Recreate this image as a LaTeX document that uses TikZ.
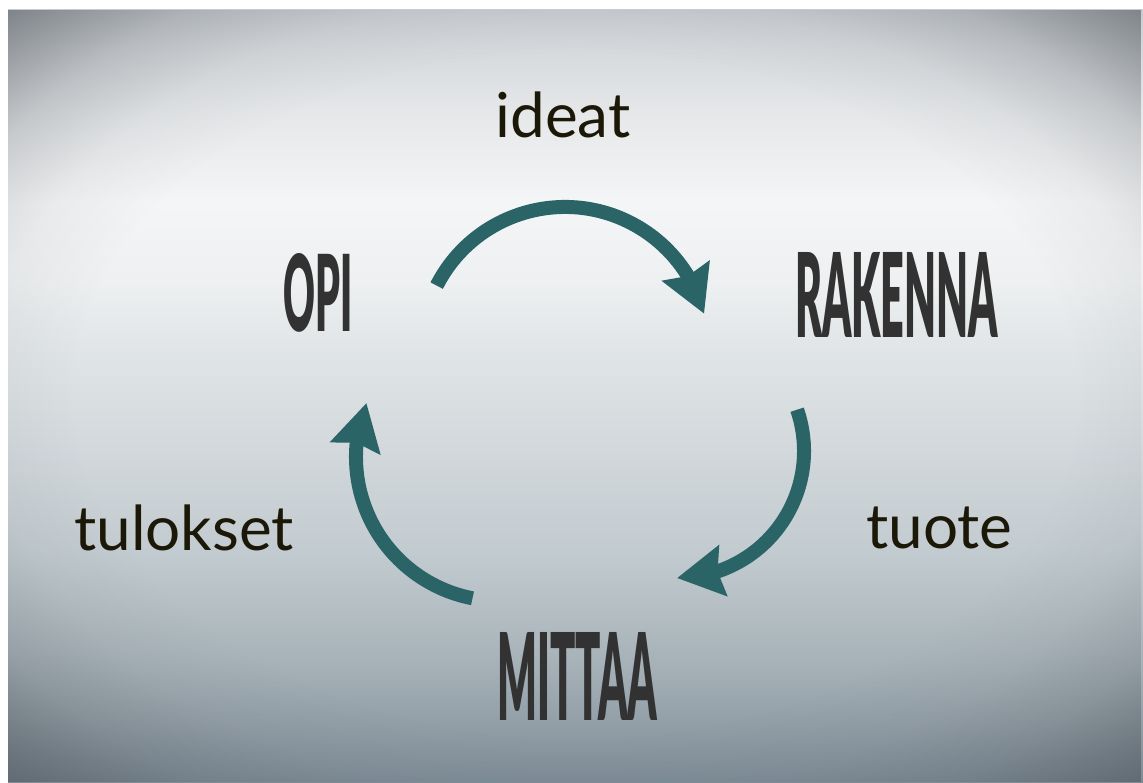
\documentclass[tikz,border=0pt]{standalone}
\usepackage{fontspec}
\usepackage{graphicx}
\usetikzlibrary{arrows.meta,bending,fadings}

\newfontfamily\gothic{Lato Black}
\newfontfamily\labelfont{Lato}

\definecolor{arrowteal}{HTML}{2A6467}
\definecolor{wordgrey}{HTML}{323232}
\definecolor{labelink}{HTML}{1C1808}
\definecolor{vignettegrey}{HTML}{50565C}
% backdrop, bottom to top
\definecolor{bgA}{HTML}{7E8C97}
\definecolor{bgB}{HTML}{94A0A8}
\definecolor{bgC}{HTML}{AAB5BB}
\definecolor{bgD}{HTML}{C2CBD0}
\definecolor{bgE}{HTML}{D2D8DB}
\definecolor{bgF}{HTML}{E1E5E7}
\definecolor{bgG}{HTML}{EEF0F1}
\definecolor{bgH}{HTML}{F4F5F6}
\definecolor{bgI}{HTML}{E6E8EA}
\definecolor{bgJ}{HTML}{D6D9DC}
\definecolor{bgK}{HTML}{C8CCD0}

% TikZ maps a path's box onto the middle band 25bp..75bp of a shading
\pgfdeclareverticalshading{backdrop}{100bp}{%
  color(0bp)=(bgA); color(25bp)=(bgA); color(29bp)=(bgB); color(33.5bp)=(bgC);
  color(40bp)=(bgD); color(46.5bp)=(bgE); color(53bp)=(bgF); color(57.5bp)=(bgG);
  color(62.5bp)=(bgH); color(68bp)=(bgI); color(72.5bp)=(bgJ); color(75bp)=(bgK);
  color(100bp)=(bgK)}

% luminosity mask: black lets the backdrop through, lighter greys darken it
\pgfdeclareradialshading{vignettemask}{\pgfpointorigin}{%
  color(0bp)=(black); color(22bp)=(black);
  color(26bp)=(white!6!black); color(30bp)=(white!22!black);
  color(35.4bp)=(white!62!black); color(50bp)=(white!62!black)}
\pgfdeclarefading{vignette}{\pgfuseshading{vignettemask}}

\begin{document}
\begin{tikzpicture}[x=1pt,y=1pt,
  cyclearrow/.style={draw=arrowteal, line width=14pt,
    -{Stealth[length=46pt,width=50pt,inset=5pt]}},
  bigword/.style={inner sep=0pt, text=wordgrey, anchor=north west},
  smallword/.style={inner sep=0pt, text=labelink, anchor=base,
    font=\labelfont\fontsize{62}{62}\selectfont}]
\useasboundingbox (0,0) rectangle (1143,-782);
\fill[white] (0,0) rectangle (1143,-782);

% backdrop with darkened corners
\shade[shading=backdrop] (8,-9) rectangle (1143,-782);
\fill[vignettegrey, path fading=vignette] (8,-9) rectangle (1143,-782);

% stage names
\node[bigword] (opi) at (283,-253) {\resizebox{69pt}{78pt}{\gothic OPI}};
\node[bigword] (rakenna) at (795,-252) {\resizebox{203pt}{85pt}{\gothic RAKENNA}};
\node[bigword] (mittaa) at (497,-632) {\resizebox{160pt}{88pt}{\gothic MITTAA}};

% what passes between the stages
\node[smallword] (ideat) at (563,-137) {ideat};
\node[smallword] (tuote) at (939.5,-548) {tuote};
\node[smallword] (tulokset) at (184,-550) {tulokset};

% the cycle
\coordinate (topstart) at (436.7,-285.6);
\coordinate (rightstart) at (797.1,-409.7);
\coordinate (leftstart) at (472.5,-598.3);
\draw[cyclearrow] (topstart) arc[start angle=153, end angle=15, radius=144];
\draw[cyclearrow] (rightstart) arc[start angle=19, end angle=-90, radius=127];
\draw[cyclearrow] (leftstart) arc[start angle=259, end angle=158, radius=144];
\end{tikzpicture}
\end{document}
